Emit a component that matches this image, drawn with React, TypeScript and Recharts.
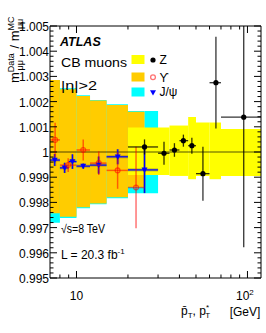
import React from "react";
import { ScatterChart, Scatter, XAxis, YAxis, ErrorBar, ReferenceArea, ReferenceLine } from "recharts";

const FONT = "'Liberation Sans', Arial, Helvetica, sans-serif";

// systematic bands: bin edges, upper and lower edge
const jpsiBandLo = [7, 8, 10, 12, 15, 20, 25];
const jpsiBandHi = [8, 10, 12, 15, 20, 25, 30];
const jpsiBandUp = [1.00286, 1.00253, 1.00225, 1.00206, 1.00189, 1.00163, 1.00163];
const jpsiBandDown = [0.99719, 0.99738, 0.99777, 0.99793, 0.99816, 0.99836, 0.99836];

const upsBandLo = [7, 8, 10, 12, 15, 20];
const upsBandHi = [8, 10, 12, 15, 20, 25];
const upsBandUp = [1.00286, 1.00249, 1.00222, 1.00204, 1.00187, 1.0016];
const upsBandDown = [0.99757, 0.99743, 0.99781, 0.99796, 0.9982, 0.99861];

const zBandLo = [20, 35, 45, 50, 60, 70];
const zBandHi = [35, 45, 50, 60, 70, 120];
const zBandUp = [1.00097, 1.00105, 1.00139, 1.00117, 1.00117, 1.00091];
const zBandDown = [0.99909, 0.99905, 0.99892, 0.99905, 0.99892, 0.99905];

// data points
const zPt = [25.0, 32.5, 37.4, 42.2, 47.3, 54.9, 65.4, 95.1];
const zRatio = [1.0002, 0.99995, 1.00008, 1.00045, 1.00025, 0.99914, 1.00275, 1.00138];
const zErr = [0.0003, 0.00046, 0.00027, 0.00024, 0.00032, 0.00107, 0.00182, 0.00516];
const zLo = [20, 30, 35, 40, 45, 50, 60, 70];
const zHi = [30, 35, 40, 45, 50, 60, 70, 120];

const upsPt = [7.5, 8.94, 10.95, 13.5, 17.4, 22.3];
const upsRatio = [1.00048, 0.99948, 1.00008, 0.99956, 0.99927, 0.99859];
const upsErr = [0.00068, 0.00027, 0.00042, 0.00047, 0.00073, 0.00162];
const upsLo = [7, 8, 10, 12, 15, 20];
const upsHi = [8, 10, 12, 15, 20, 25];

const jpsiPt = [7.46, 8.53, 9.47, 10.95, 13.47, 17.43, 25.0];
const jpsiRatio = [0.99968, 0.99937, 0.99962, 0.99944, 0.99948, 0.99981, 0.99929];
const jpsiErr = [0.00024, 0.0002, 0.00029, 0.0001, 0.00034, 0.0003, 0.00092];
const jpsiLo = [7, 8, 9, 10, 12, 15, 20];
const jpsiHi = [8, 9, 10, 12, 15, 20, 30];

// axis ticks
const yTickLabels = ["0.995", "0.996", "0.997", "0.998", "0.999", "1", "1.001", "1.002", "1.003", "1.004", "1.005"];
const yMajor = yTickLabels.map(Number);
const yTicks = yMajor.flatMap((v, i) =>
  i < yMajor.length - 1 ? [v, v + 0.0002, v + 0.0004, v + 0.0006, v + 0.0008] : [v]
);
const xMajor = [10, 100];
const xTicks = [8, 9, 10, 20, 30, 40, 50, 60, 70, 80, 90, 100];

const points = (x: number[], y: number[], err: number[], lo: number[], hi: number[]) =>
  x.map((v, i) => ({ x: v, y: y[i], yerr: err[i], xerr: [v - lo[i], hi[i] - v] }));

const zData = points(zPt, zRatio, zErr, zLo, zHi);
const upsData = points(upsPt, upsRatio, upsErr, upsLo, upsHi);
const jpsiData = points(jpsiPt, jpsiRatio, jpsiErr, jpsiLo, jpsiHi);

const yLabel = (v: number) => {
  const i = yMajor.findIndex((m) => Math.abs(m - v) < 1e-7);
  return i >= 0 ? yTickLabels[i] : null;
};

const LeftTick = ({ x, y, payload }: any) => {
  const lbl = yLabel(payload.value);
  return (
    <g>
      <line x1={x} x2={x + (lbl ? 7 : 3.5)} y1={y} y2={y} stroke="#000" />
      {lbl && (
        <text x={x - 1} y={y + 5} textAnchor="end" fontSize={12} fontFamily={FONT} fill="#000">
          {lbl}
        </text>
      )}
    </g>
  );
};

const RightTick = ({ x, y, payload }: any) => {
  const lbl = yLabel(payload.value);
  return <line x1={x} x2={x - (lbl ? 7 : 3.5)} y1={y} y2={y} stroke="#000" />;
};

const BottomTick = ({ x, y, payload }: any) => {
  const major = xMajor.includes(payload.value);
  return (
    <g>
      <line x1={x} x2={x} y1={y} y2={y - (major ? 7 : 3.5)} stroke="#000" />
      {payload.value === 10 && (
        <text x={x} y={y + 22} textAnchor="middle" fontSize={12} fontFamily={FONT} fill="#000">10</text>
      )}
      {payload.value === 100 && (
        <text x={x - 11.5} y={y + 22} fontSize={12} fontFamily={FONT} fill="#000">
          10<tspan fontSize={8} dy={-5}>2</tspan>
        </text>
      )}
    </g>
  );
};

const TopTick = ({ x, y, payload }: any) => {
  const major = xMajor.includes(payload.value);
  return <line x1={x} x2={x} y1={y} y2={y + (major ? 7 : 3.5)} stroke="#000" />;
};

const ZDot = ({ cx, cy }: any) => <circle cx={cx} cy={cy} r={2.6} fill="#000" />;
const UpsDot = ({ cx, cy }: any) => (
  <circle cx={cx} cy={cy} r={2.4} fill="none" stroke="#ff0000" strokeOpacity={0.55} strokeWidth={1.3} />
);
const JpsiDot = ({ cx, cy }: any) => (
  <path d={`M${cx - 3},${cy - 2.3} L${cx + 3},${cy - 2.3} L${cx},${cy + 3} Z`} fill="#0000ff" />
);

export default function App() {
  return (
    <div style={{ position: "absolute", left: 0, top: 0, width: 266, height: 333, background: "#fff" }}>
      {/* error bars are not clipped by recharts, so clip them to the frame */}
      <style>{".recharts-errorBar { clip-path: url(#plotClip); }"}</style>
      <ScatterChart width={266} height={333} margin={{ top: 0, right: 0, bottom: 0, left: 0 }}>
        <XAxis xAxisId="b" type="number" dataKey="x" scale="log" domain={[7, 120]} ticks={xTicks}
          interval={0} tickSize={0} tickMargin={0} height={55} allowDataOverflow
          axisLine={{ stroke: "#000" }} tick={(p: any) => <BottomTick {...p} />} />
        <XAxis xAxisId="t" orientation="top" type="number" dataKey="x" scale="log" domain={[7, 120]} ticks={xTicks}
          interval={0} tickSize={0} tickMargin={0} height={26} allowDataOverflow
          axisLine={{ stroke: "#000" }} tick={(p: any) => <TopTick {...p} />} />
        <YAxis yAxisId="l" type="number" dataKey="y" domain={[0.995, 1.005]} ticks={yTicks}
          interval={0} tickSize={0} tickMargin={0} width={50} allowDataOverflow
          axisLine={{ stroke: "#000" }} tick={(p: any) => <LeftTick {...p} />} />
        <YAxis yAxisId="r" orientation="right" type="number" dataKey="y" domain={[0.995, 1.005]} ticks={yTicks}
          interval={0} tickSize={0} tickMargin={0} width={5} allowDataOverflow
          axisLine={{ stroke: "#000" }} tick={(p: any) => <RightTick {...p} />} />

        {jpsiBandLo.map((lo, i) => (
          <ReferenceArea key={`jb${i}`} xAxisId="b" yAxisId="l" x1={lo} x2={jpsiBandHi[i]}
            y1={jpsiBandDown[i]} y2={jpsiBandUp[i]} fill="#00ffff" fillOpacity={1} stroke="none" />
        ))}
        {upsBandLo.map((lo, i) => (
          <ReferenceArea key={`ub${i}`} xAxisId="b" yAxisId="l" x1={lo} x2={upsBandHi[i]}
            y1={upsBandDown[i]} y2={upsBandUp[i]} fill="#ffcc00" fillOpacity={1} stroke="none" />
        ))}
        {zBandLo.map((lo, i) => (
          <ReferenceArea key={`zb${i}`} xAxisId="b" yAxisId="l" x1={lo} x2={zBandHi[i]}
            y1={zBandDown[i]} y2={zBandUp[i]} fill="#ffff00" fillOpacity={1} stroke="none" />
        ))}
        <ReferenceLine xAxisId="b" yAxisId="l" y={1} stroke="#000" strokeOpacity={0.45} strokeWidth={1.5} />

        <Scatter xAxisId="b" yAxisId="l" data={jpsiData} shape={(p: any) => <JpsiDot {...p} />} isAnimationActive={false}>
          <ErrorBar dataKey="xerr" direction="x" width={0} stroke="#555" strokeOpacity={0.4} strokeWidth={3} />
          <ErrorBar dataKey="yerr" direction="y" width={0} stroke="#555" strokeOpacity={0.4} strokeWidth={3} />
          <ErrorBar dataKey="xerr" direction="x" width={0} stroke="#0000ff" strokeWidth={1.2} />
          <ErrorBar dataKey="yerr" direction="y" width={0} stroke="#0000ff" strokeWidth={1.2} />
        </Scatter>
        <Scatter xAxisId="b" yAxisId="l" data={upsData} shape={(p: any) => <UpsDot {...p} />} isAnimationActive={false}>
          <ErrorBar dataKey="xerr" direction="x" width={0} stroke="#ff0000" strokeOpacity={0.55} strokeWidth={1.5} />
          <ErrorBar dataKey="yerr" direction="y" width={0} stroke="#ff0000" strokeOpacity={0.55} strokeWidth={1.5} />
        </Scatter>
        <Scatter xAxisId="b" yAxisId="l" data={zData} shape={(p: any) => <ZDot {...p} />} isAnimationActive={false}>
          <ErrorBar dataKey="xerr" direction="x" width={0} stroke="#000" strokeOpacity={0.8} strokeWidth={1.3} />
          <ErrorBar dataKey="yerr" direction="y" width={0} stroke="#000" strokeOpacity={0.8} strokeWidth={1.3} />
        </Scatter>
      </ScatterChart>

      <svg width={266} height={333} style={{ position: "absolute", left: 0, top: 0, pointerEvents: "none" }}
        fontFamily={FONT} fill="#000">
        <defs>
          <clipPath id="plotClip" clipPathUnits="userSpaceOnUse">
            <rect x={50} y={26} width={211} height={252} />
          </clipPath>
        </defs>
        <text transform="rotate(-90)" x={-83} y={19} fontSize={13}>
          m<tspan fontSize={9} dy={-5}>Data</tspan>
          <tspan fontSize={9} dx={-17.3} dy={9}>μμ</tspan>
          <tspan dx={8} dy={-4}> / m</tspan>
          <tspan fontSize={9} dy={-5}>MC</tspan>
          <tspan fontSize={9} dx={-12.7} dy={9}>μμ</tspan>
        </text>

        <text x={60} y={46} fontSize={12.5} fontWeight="bold" fontStyle="italic">ATLAS</text>
        <text x={61} y={66.5} fontSize={12} textLength={66} lengthAdjust="spacingAndGlyphs">CB muons</text>
        <text x={61} y={90} fontSize={12} textLength={36} lengthAdjust="spacingAndGlyphs">|η|&gt;2</text>
        <text x={61} y={232.5} fontSize={12} textLength={44} lengthAdjust="spacingAndGlyphs">√s=8 TeV</text>
        <text x={61} y={259} fontSize={12}>
          L = 20.3 fb<tspan fontSize={8} dy={-5}>-1</tspan>
        </text>

        <rect x={131.5} y={55} width={13} height={9} fill="#ffff00" />
        <rect x={131.5} y={72.5} width={13} height={9} fill="#ffcc00" />
        <rect x={131.5} y={87.5} width={13} height={9} fill="#00ffff" />
        <circle cx={153} cy={60} r={2.6} fill="#000" />
        <circle cx={153} cy={77.3} r={2.4} fill="none" stroke="#ff0000" strokeOpacity={0.55} strokeWidth={1.3} />
        <path d="M150,90.2 L156,90.2 L153,95.5 Z" fill="#0000ff" />
        <text x={159.5} y={64.3} fontSize={12}>Z</text>
        <text x={159.5} y={81.7} fontSize={12}>ϒ</text>
        <text x={159.5} y={95.8} fontSize={12}>J/ψ</text>

        <text x={181} y={315} fontSize={12}>
          p̄<tspan fontSize={8} dy={3}>T</tspan>
          <tspan dy={-3}>, p</tspan>
          <tspan fontSize={8} dy={-5}>*</tspan>
          <tspan fontSize={8} dx={-3.7} dy={8}>T</tspan>
        </text>
        <text x={229.7} y={316} fontSize={12}>[GeV]</text>
      </svg>
    </div>
  );
}
